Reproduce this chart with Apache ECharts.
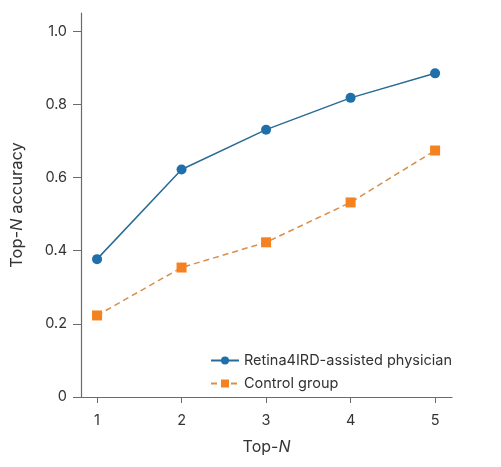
<!DOCTYPE html>
<html>
<head>
<meta charset="utf-8">
<script src="https://cdn.jsdelivr.net/npm/echarts@6/dist/echarts.min.js"></script>
<style>
html, body { margin: 0; padding: 0; background: #fff; }
#main { width: 501px; height: 467px; }
</style>
</head>
<body>
<div id="main"></div>
<script>
// 数据
var topN = [1, 2, 3, 4, 5];
var assisted = [0.377, 0.622, 0.731, 0.818, 0.885];
var control = [0.223, 0.354, 0.423, 0.532, 0.674];
var yTicks = [0, 0.2, 0.4, 0.6, 0.8, 1.0];

var axisColor = "#6b6b6b";
var textColor = "#333";
var fontFamily = "Inter, 'Liberation Sans', sans-serif";
var blue = "#1f6fab";
var orange = "#f58220";

function pairs(xs, ys) {
    var out = [];
    for (var i = 0; i < xs.length; i++) {
        out.push([xs[i], ys[i]]);
    }
    return out;
}

var chart = echarts.init(document.getElementById("main"));

var option = {
    animation: false,
    backgroundColor: "#fff",
    textStyle: {fontFamily: fontFamily},
    grid: {left: 81, right: 49, top: 13, bottom: 70, containLabel: false},
    legend: {
        orient: "vertical",
        left: 205,
        top: 348,
        itemWidth: 28,
        itemHeight: 10,
        itemGap: 8,
        textStyle: {fontSize: 14.5, color: textColor, fontFamily: fontFamily},
        data: ["Retina4IRD-assisted physician", "Control group"]
    },
    xAxis: {
        type: "value",
        min: 0.81,
        max: 5.2,
        name: "{a|Top-}{i|N}",
        nameLocation: "middle",
        nameGap: 42,
        nameTextStyle: {
            rich: {
                a: {fontSize: 16, color: textColor, fontFamily: fontFamily},
                i: {fontSize: 16, color: textColor, fontFamily: fontFamily, fontStyle: "italic"}
            }
        },
        splitLine: {show: false},
        axisLine: {show: true, lineStyle: {color: axisColor, width: 1.2}},
        axisTick: {show: true, length: 6, customValues: topN, lineStyle: {color: axisColor}},
        axisLabel: {customValues: topN, fontSize: 14.5, color: textColor, margin: 16}
    },
    yAxis: {
        type: "value",
        min: 0,
        max: 1.05,
        name: "{a|Top-}{i|N}{a| accuracy}",
        nameLocation: "middle",
        nameGap: 55,
        nameTextStyle: {
            rich: {
                a: {fontSize: 16.5, color: textColor, fontFamily: fontFamily},
                i: {fontSize: 16.5, color: textColor, fontFamily: fontFamily, fontStyle: "italic"}
            }
        },
        splitLine: {show: false},
        axisLine: {show: true, lineStyle: {color: axisColor, width: 1.2}},
        axisTick: {show: true, length: 8, customValues: yTicks, lineStyle: {color: axisColor}},
        axisLabel: {
            customValues: yTicks,
            fontSize: 14.5,
            color: textColor,
            margin: 14,
            formatter: function (v) { return v === 0 ? "0" : v.toFixed(1); }
        }
    },
    series: [
        {
            name: "Retina4IRD-assisted physician",
            type: "line",
            data: pairs(topN, assisted),
            symbol: "circle",
            symbolSize: 10,
            itemStyle: {color: blue},
            lineStyle: {color: "#2a6b94", width: 1.5}
        },
        {
            name: "Control group",
            type: "line",
            data: pairs(topN, control),
            symbol: "rect",
            symbolSize: 10,
            itemStyle: {color: orange},
            lineStyle: {color: "#d98f4a", width: 1.5, type: [6, 4]}
        }
    ]
};

chart.setOption(option);
</script>
</body>
</html>
